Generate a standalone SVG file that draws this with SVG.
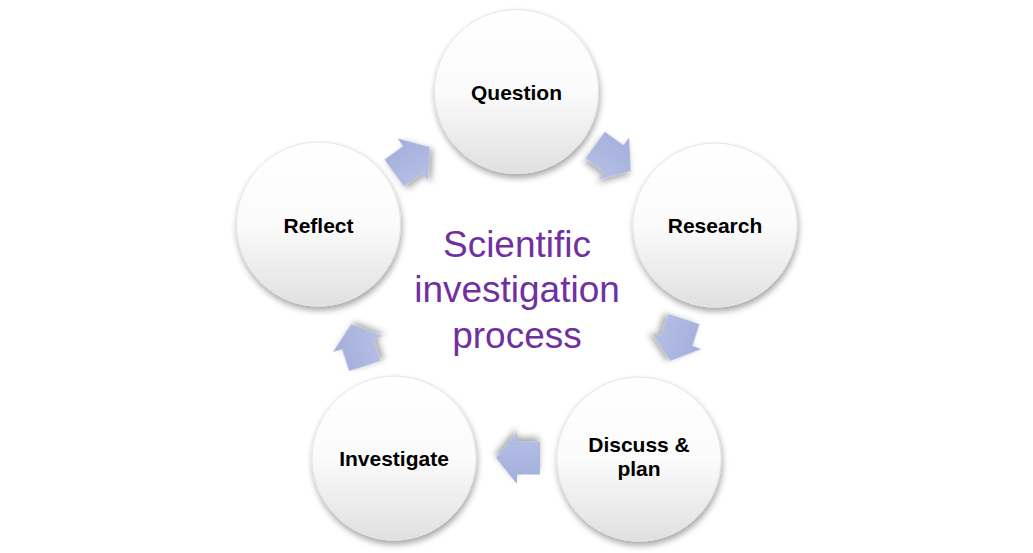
<svg xmlns="http://www.w3.org/2000/svg" width="1033" height="553" viewBox="0 0 1033 553">
<defs>
<linearGradient id="cg" x1="0" y1="0" x2="0" y2="1">
<stop offset="0" stop-color="#ffffff"/>
<stop offset="0.5" stop-color="#fbfbfb"/>
<stop offset="1" stop-color="#e0e0e0"/>
</linearGradient>
<linearGradient id="ag" gradientUnits="userSpaceOnUse" x1="0" y1="-26" x2="0" y2="26">
<stop offset="0" stop-color="#a2aedc"/>
<stop offset="1" stop-color="#b6bfe5"/>
</linearGradient>
<filter id="sh" x="-30%" y="-30%" width="160%" height="160%">
<feGaussianBlur in="SourceAlpha" stdDeviation="3"/>
<feOffset dx="1" dy="4" result="b"/>
<feComponentTransfer><feFuncA type="linear" slope="0.35"/></feComponentTransfer>
<feMerge><feMergeNode/><feMergeNode in="SourceGraphic"/></feMerge>
</filter>
<polygon id="arr" points="-22,-16.5 1,-16.5 1,-26 22,0 1,26 1,16.5 -22,16.5"/>
</defs>
<style>
.node circle{fill:url(#cg);stroke:#e4e4e4;stroke-width:1;filter:url(#sh)}
.node text{font-family:"Liberation Sans",Arial,sans-serif;font-weight:bold;font-size:21px;fill:#000;text-anchor:middle}
.arrows use{fill:url(#ag);filter:url(#sh)}
.title{font-family:"Liberation Sans",Arial,sans-serif;font-size:37px;fill:#7030a0;text-anchor:middle}
</style>
<rect width="1033" height="553" fill="#ffffff"/>
<g id="connectors" class="arrows">
<use href="#arr" transform="translate(613,158) rotate(36)"/>
<use href="#arr" transform="translate(677,340) rotate(108)"/>
<use href="#arr" transform="translate(518,458) rotate(180)"/>
<use href="#arr" transform="translate(358,345) rotate(252)"/>
<use href="#arr" transform="translate(412,160) rotate(324)"/>
</g>
<g id="question" class="node">
<circle cx="516.5" cy="91.5" r="82"/>
<text x="516.5" y="100">Question</text>
</g>
<g id="research" class="node">
<circle cx="715" cy="225" r="82"/>
<text x="715" y="233">Research</text>
</g>
<g id="discuss" class="node">
<circle cx="639" cy="459" r="82"/>
<text x="639" y="452">Discuss &amp;</text>
<text x="639" y="476">plan</text>
</g>
<g id="investigate" class="node">
<circle cx="394" cy="458" r="82"/>
<text x="394" y="466">Investigate</text>
</g>
<g id="reflect" class="node">
<circle cx="318.5" cy="224" r="82"/>
<text x="318.5" y="233">Reflect</text>
</g>
<g id="title">
<text class="title" x="517" y="257">Scientific</text>
<text class="title" x="517" y="302">investigation</text>
<text class="title" x="517" y="348">process</text>
</g>
</svg>
